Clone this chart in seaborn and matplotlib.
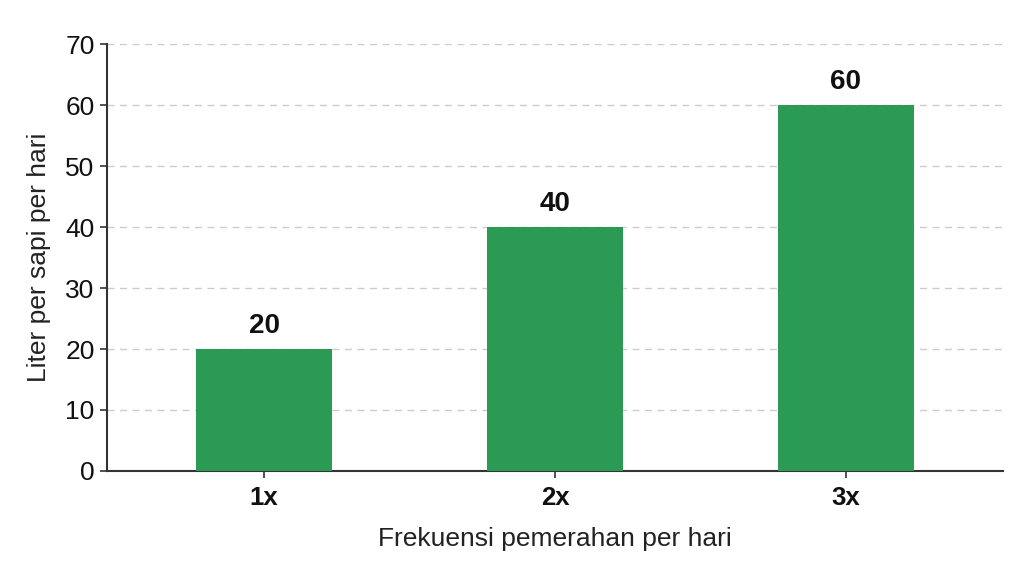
import matplotlib
matplotlib.use("Agg")
import matplotlib.pyplot as plt
import seaborn as sns
import pandas as pd

categories = ["1x", "2x", "3x"]
values = [20, 40, 60]
yticks = [0, 10, 20, 30, 40, 50, 60, 70]

sns.set_theme(style="white")
plt.rcParams['font.family'] = ['Liberation Sans', 'DejaVu Sans']

df = pd.DataFrame({"freq": categories, "liter": values})

fig = plt.figure(figsize=(10.24, 5.72), dpi=100)
ax = fig.add_axes([0.1045, 0.1766, 0.875, 0.7464])

sns.barplot(data=df, x="freq", y="liter", color="#2a9a55", saturation=1,
            width=0.47, ax=ax, zorder=3, linewidth=0, edgecolor="none")

ax.set_ylim(0, 70)
ax.set_xlim(-0.54, 2.54)
ax.set_yticks(yticks)
ax.yaxis.grid(True, linestyle=(0, (5, 4)), color="#cccccc", linewidth=1, zorder=0)
ax.set_axisbelow(True)

for s in ["top", "right"]:
    ax.spines[s].set_visible(False)
for s in ["left", "bottom"]:
    ax.spines[s].set_color("#333333")
    ax.spines[s].set_linewidth(1.5)

ax.tick_params(axis="both", which="both", length=5, width=1.2, color="#333333",
               direction="out", left=True, bottom=True)
ax.tick_params(axis="y", labelsize=19, labelcolor="#111111", pad=4)
ax.tick_params(axis="x", labelsize=18.5, labelcolor="#111111", pad=6)
for lab in ax.get_xticklabels():
    lab.set_fontweight("bold")

ax.set_xlabel("Frekuensi pemerahan per hari", fontsize=19, color="#222222", labelpad=12)
ax.set_ylabel("Liter per sapi per hari", fontsize=19, color="#222222", labelpad=10)

for container in ax.containers:
    ax.bar_label(container, labels=[str(v) for v in values], padding=7,
                 fontsize=20, fontweight="bold", color="#111111")

fig.savefig("out.png", dpi=100)
